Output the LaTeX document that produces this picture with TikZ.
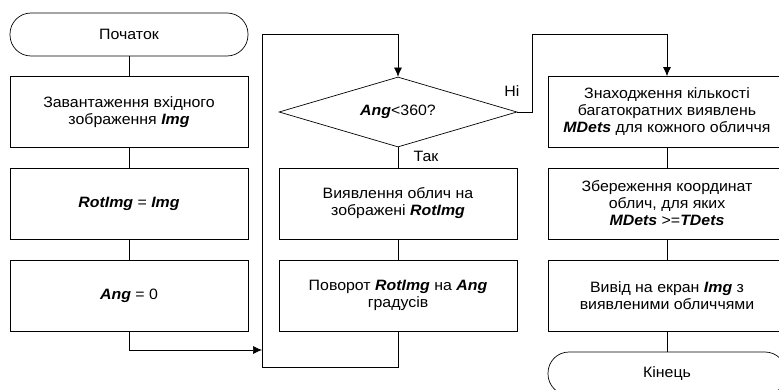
\documentclass[tikz,border=0pt]{standalone}
\usepackage{fontspec}
\setmainfont[FakeStretch=1.06]{Liberation Sans}
\usetikzlibrary{shapes.geometric,arrows.meta}

\newcommand{\vr}[1]{\textbf{\textit{#1}}}

\tikzset{
  block/.style={draw, minimum width=238pt, minimum height=71pt, align=center, inner sep=2pt},
  term/.style={draw, rounded corners=21pt, minimum width=238pt, minimum height=43pt},
  cond/.style={draw, diamond, aspect=3.4, minimum width=238pt, minimum height=70pt, inner sep=0pt},
  lbl/.style={inner sep=0pt},
  arr/.style={-{Latex[length=9pt,width=8pt]}}
}

\begin{document}
\begin{tikzpicture}[x=1pt, y=-1pt, line width=0.7pt,
  font=\fontsize{15}{17}\selectfont]

\useasboundingbox (0,0) rectangle (779,390);

% left column
\node[term]  (start) at (129,34.5) {Початок};
\node[block] (load)  at (129,112)  {Завантаження вхідного\\зображення \vr{Img}};
\node[block] (copy)  at (129,203.5) {\vr{RotImg} = \vr{Img}};
\node[block] (init)  at (129,295.5) {\vr{Ang} = 0};

% middle column
\node[cond]  (check)  at (398,112)   {\vr{Ang}<360?};
\node[block] (detect) at (398,203.5) {Виявлення облич на\\зображені \vr{RotImg}};
\node[block] (turn)   at (398,295.5) {Поворот \vr{RotImg} на \vr{Ang}\\градусів};

% right column
\node[block] (count) at (667,112)   {Знаходження кількості\\багатократних виявлень\\\vr{MDets} для кожного обличчя};
\node[block] (save)  at (667,203.5) {Збереження координат\\облич, для яких\\\vr{MDets} >=\vr{TDets}};
\node[block] (show)  at (667,295.5) {Вивід на екран \vr{Img} з\\виявленими обличчями};
\node[term]  (stop)  at (667,373.5) {Кінець};

\node[lbl] (no)  at (512,91)  {Ні};
\node[lbl] (yes) at (426,156) {Так};

\coordinate (lptop) at (262,34);
\coordinate (lpbot) at (262,367);
\coordinate (join)  at (262,350);
\coordinate (rbend) at (532,34);

\draw (start) -- (load);
\draw (load) -- (copy);
\draw (copy) -- (init);
\draw[arr] (init) |- (join);

\draw (check) -- (detect);
\draw (detect) -- (turn);
\draw[arr] (turn) |- (lpbot) -- (lptop) -| (check);

\draw[arr] (check.east) -| (rbend) -| (count);
\draw (count) -- (save);
\draw (save) -- (show);
\draw (show) -- (stop);

\end{tikzpicture}
\end{document}
